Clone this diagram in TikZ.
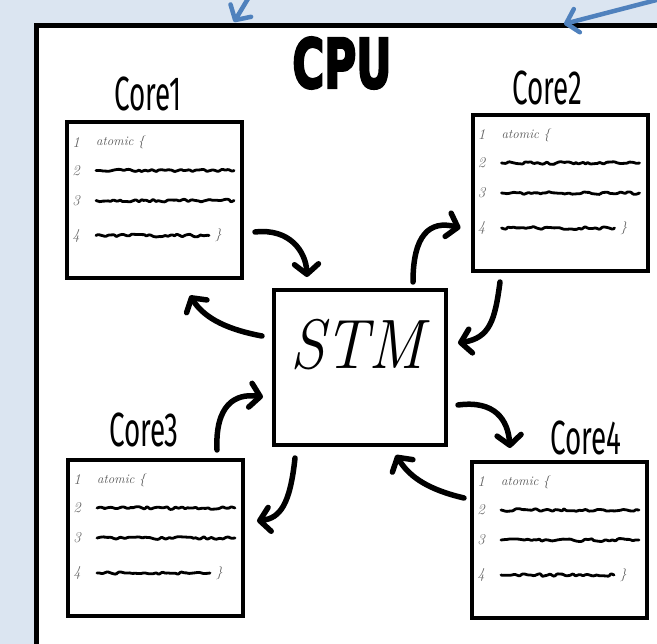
\documentclass[tikz,border=0pt]{standalone}
\usepackage{fontspec}
\usetikzlibrary{arrows.meta,decorations.pathmorphing}
\newfontfamily\labelfont{Fira Sans}
\newfontfamily\cpufont{DejaVu Sans}[BoldFeatures={FakeBold=4}]
\definecolor{bgblue}{HTML}{DBE5F1}
\definecolor{callout}{HTML}{4F81BD}
\tikzset{
 corebox/.style={draw, line width=4pt, minimum width=175pt, minimum height=156pt, inner sep=0pt, outer sep=0pt, fill=white},
 stmbox/.style={draw, line width=4pt, minimum width=172pt, minimum height=155pt, inner sep=0pt, outer sep=0pt, fill=white},
 corelabel/.style={inner sep=0pt, font=\labelfont\fontsize{48}{48}\selectfont},
 flow/.style={line width=5.5pt, line cap=round, -{Straight Barb[length=10pt,width=24pt,round]}},
 callarrow/.style={draw=callout, line width=4.5pt, line cap=round, -{Straight Barb[length=11pt,width=24pt,round]}},
 squig/.style={line width=2.8pt, decorate, decoration={random steps, segment length=3pt, amplitude=1.5pt}, rounded corners=0.8pt, line join=round, line cap=round},
 codetext/.style={inner sep=0pt, anchor=west, text=black!65, font=\itshape\fontsize{13}{13}\selectfont},
 codenum/.style={inner sep=0pt, text=black!60, font=\itshape\fontsize{15}{15}\selectfont},
}
\newcommand\codelines[1]{%
 \node[codenum] (#1-n1) at ([shift={(9,20)}]#1.north west) {1};
 \node[codetext] (#1-t1) at ([shift={(29,20)}]#1.north west) {atomic \{};
 \node[codenum] (#1-n2) at ([shift={(9,48)}]#1.north west) {2};
 \draw[squig] ([shift={(29,48)}]#1.north west) -- ([shift={(167,48)}]#1.north west);
 \node[codenum] (#1-n3) at ([shift={(9,78)}]#1.north west) {3};
 \draw[squig] ([shift={(29,78)}]#1.north west) -- ([shift={(167,78)}]#1.north west);
 \node[codenum] (#1-n4) at ([shift={(9,113)}]#1.north west) {4};
 \draw[squig] ([shift={(29,113)}]#1.north west) -- ([shift={(142,113)}]#1.north west);
 \node[codetext] (#1-t4) at ([shift={(148,113)}]#1.north west) {\}};
}
\begin{document}
\begin{tikzpicture}[x=1pt,y=-1pt]
\pgfmathsetseed{11}
\useasboundingbox (0,0) rectangle (657,644);
\clip (0,0) rectangle (657,644);
\fill[bgblue] (0,0) rectangle (657,644);
\draw[line width=5pt, fill=white] (36,26) rectangle (720,720);

% callout arrows from outside
\coordinate (b1s) at (252,-8);
\coordinate (b1e) at (234,22);
\coordinate (b2s) at (668,-3);
\coordinate (b2e) at (564,24);
\draw[callarrow] (b1s) -- (b1e);
\draw[callarrow] (b2s) -- (b2e);

% title
\node[inner sep=0pt] (cpu) at (342,63) {\cpufont\bfseries\fontsize{68}{68}\selectfont\scalebox{0.64}[1]{CPU}};

% boxes
\node[corebox] (core1) at (154.5,200.5) {};
\node[corebox] (core2) at (560,193) {};
\node[corebox] (core3) at (155.5,538) {};
\node[corebox] (core4) at (559.5,540) {};
\node[stmbox] (stm) at (360,367.5) {};
\node[inner sep=0pt, font=\itshape\fontsize{70}{70}\selectfont] (stmlabel) at (357,345) {\scalebox{0.9}[1]{STM}};

% labels
\node[corelabel] (l1) at (148,94) {\scalebox{0.58}[1]{Core1}};
\node[corelabel] (l2) at (547,88) {\scalebox{0.58}[1]{Core2}};
\node[corelabel] (l3) at (144,430) {\scalebox{0.58}[1]{Core3}};
\node[corelabel] (l4) at (586,438) {\scalebox{0.58}[1]{Core4}};

\codelines{core1}
\codelines{core2}
\codelines{core3}
\codelines{core4}

% flows
\draw[flow] ([shift={(13,31.5)}]core1.east) .. controls +(35,-4) and +(-1,-25) .. ([shift={(-53,-13)}]stm.north);
\draw[flow] ([shift={(-12,-31.5)}]stm.west) .. controls +(-32,-6) and +(15,24) .. ([shift={(35.5,17)}]core1.south);
\draw[flow] ([shift={(53,-8)}]stm.north) .. controls +(0,-47) and +(-31,-8) .. ([shift={(-12,35)}]core2.west);
\draw[flow] ([shift={(-60,11)}]core2.south) .. controls +(-5,38) and +(32,-5) .. ([shift={(12,-24.5)}]stm.east);
\draw[flow] ([shift={(61.5,-10)}]core3.north) .. controls +(-2,-45) and +(-28,-4) .. ([shift={(-11,29.5)}]stm.west);
\draw[flow] ([shift={(-65,13)}]stm.south) .. controls +(-5,47) and +(23,-3) .. ([shift={(14,-17)}]core3.east);
\draw[flow] ([shift={(12,37.5)}]stm.east) .. controls +(37,-5) and +(-2,-28) .. ([shift={(-49.5,-14)}]core4.north);
\draw[flow] ([shift={(-8,-42)}]core4.west) .. controls +(-34,-8) and +(14,23) .. ([shift={(36,10)}]stm.south);
\end{tikzpicture}
\end{document}
